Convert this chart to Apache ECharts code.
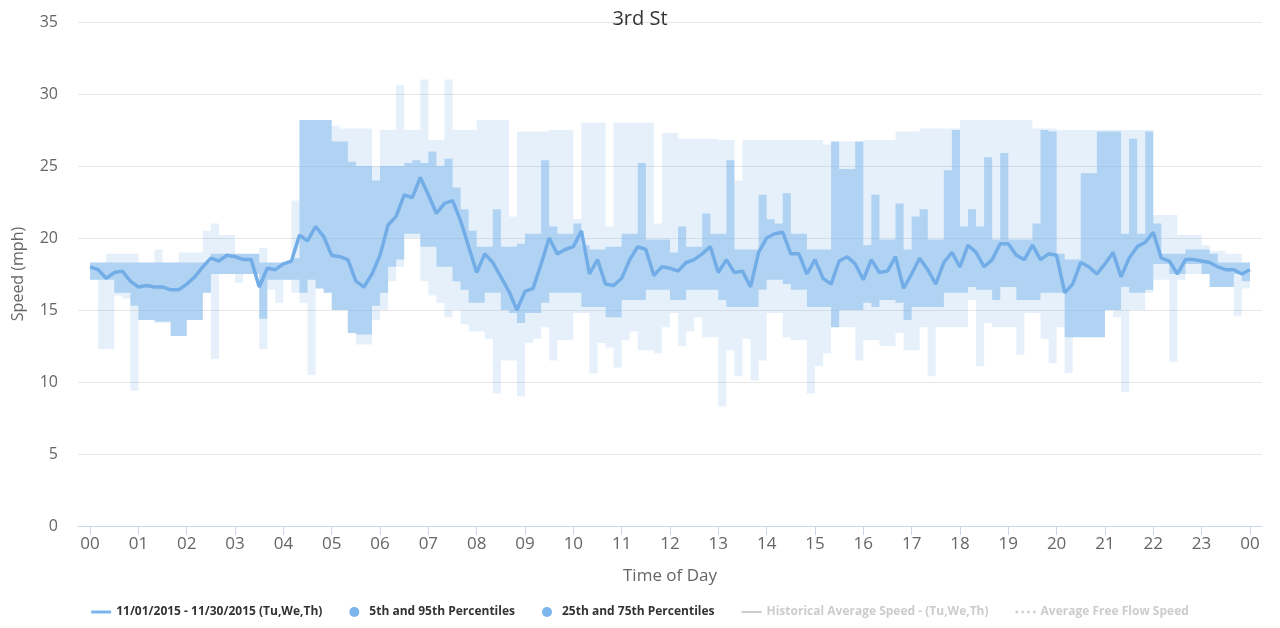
<!DOCTYPE html>
<html>
<head>
<meta charset="utf-8">
<title>3rd St</title>
<script src="https://cdn.jsdelivr.net/npm/echarts@6/dist/echarts.min.js"></script>
<style>
  html, body { margin: 0; padding: 0; background: #fff; }
  #chart { width: 1280px; height: 628px; }
</style>
</head>
<body>
<div id="chart"></div>
<script>
// time of day in hours, one point every 10 minutes (00:00 .. 24:00)
const hours = []
for (let i = 0; i <= 144; i++) hours.push(i / 6)

const hourTicks = [0, 1, 2, 3, 4, 5, 6, 7, 8, 9, 10, 11, 12, 13, 14, 15, 16, 17, 18, 19, 20, 21, 22, 23, 24]
const hourLabels = ['00', '01', '02', '03', '04', '05', '06', '07', '08', '09', '10', '11', '12',
  '13', '14', '15', '16', '17', '18', '19', '20', '21', '22', '23', '00']

// median speed, 11/01/2015 - 11/30/2015 (Tu,We,Th)
const speed = [
  18.0, 17.8, 17.2, 17.6, 17.7, 17.0,
  16.6, 16.7, 16.6, 16.6, 16.4, 16.4,
  16.8, 17.3, 18.0, 18.6, 18.4, 18.8,
  18.7, 18.5, 18.5, 16.6, 17.9, 17.8,
  18.2, 18.4, 20.2, 19.8, 20.8, 20.1,
  18.8, 18.7, 18.5, 17.0, 16.6, 17.5,
  18.8, 20.9, 21.5, 23.0, 22.8, 24.2,
  23.0, 21.7, 22.4, 22.6, 21.2, 19.4,
  17.6, 18.9, 18.3, 17.3, 16.3, 15.0,
  16.3, 16.5, 18.2, 20.0, 18.9, 19.2,
  19.4, 20.5, 17.5, 18.5, 16.8, 16.7,
  17.2, 18.5, 19.4, 19.2, 17.4, 18.0,
  17.9, 17.7, 18.3, 18.5, 18.9, 19.4,
  17.6, 18.5, 17.6, 17.7, 16.6, 19.0,
  20.0, 20.3, 20.4, 18.9, 18.9, 17.5,
  18.5, 17.2, 16.8, 18.4, 18.7, 18.2,
  17.1, 18.5, 17.6, 17.7, 18.7, 16.5,
  17.5, 18.6, 17.8, 16.8, 18.3, 19.0,
  18.0, 19.5, 19.0, 18.0, 18.5, 19.6,
  19.6, 18.8, 18.5, 19.5, 18.5, 18.9,
  18.8, 16.2, 16.8, 18.3, 18.0, 17.5,
  18.2, 19.0, 17.3, 18.6, 19.4, 19.7,
  20.4, 18.6, 18.4, 17.5, 18.5, 18.5,
  18.4, 18.3, 18.0, 17.8, 17.8, 17.5,
  17.8
]

const p75 = [
  18.3, 18.3, 18.3, 18.3, 18.3, 18.3,
  18.3, 18.3, 18.3, 18.3, 18.3, 18.3,
  18.3, 18.3, 18.3, 18.9, 18.9, 18.9,
  18.9, 18.9, 18.9, 18.3, 18.3, 18.3,
  18.3, 18.6, 28.2, 28.2, 28.2, 28.2,
  26.7, 26.7, 25.3, 25.0, 25.0, 24.0,
  25.0, 25.0, 25.0, 25.2, 25.4, 25.2,
  26.0, 25.0, 25.5, 23.5, 22.0, 20.5,
  19.4, 19.4, 22.0, 19.4, 19.4, 19.6,
  20.3, 20.3, 25.4, 20.8, 20.3, 20.3,
  21.0, 19.5, 19.2, 19.2, 19.4, 19.4,
  20.3, 20.3, 25.2, 19.9, 19.9, 19.9,
  19.0, 20.8, 19.4, 19.4, 21.7, 20.3,
  20.3, 25.4, 19.2, 19.2, 19.2, 23.0,
  21.3, 21.0, 23.1, 20.3, 20.3, 19.2,
  19.2, 19.2, 26.7, 24.8, 24.8, 26.7,
  19.5, 23.0, 19.9, 19.9, 22.4, 19.2,
  21.5, 22.0, 19.9, 19.9, 24.7, 27.5,
  20.8, 22.0, 20.8, 25.6, 19.9, 25.9,
  19.9, 19.9, 19.9, 21.0, 27.5, 27.4,
  18.9, 18.5, 18.5, 24.5, 24.5, 27.4,
  27.4, 27.4, 20.3, 26.9, 20.3, 27.4,
  21.0, 18.9, 18.9, 18.9, 19.2, 19.2,
  19.2, 18.9, 18.3, 18.3, 18.3, 18.3,
  18.3
]

const p25 = [
  17.1, 17.1, 17.1, 16.2, 16.2, 15.3,
  14.3, 14.3, 14.2, 14.2, 13.2, 13.2,
  14.3, 14.3, 16.2, 17.5, 17.5, 17.5,
  17.5, 17.5, 17.5, 14.4, 17.1, 17.1,
  17.1, 17.1, 16.2, 17.1, 16.5, 16.2,
  15.0, 15.0, 13.4, 13.3, 13.3, 15.3,
  16.2, 18.0, 18.5, 20.3, 20.3, 19.4,
  19.4, 18.0, 18.0, 17.0, 16.4, 15.5,
  15.5, 16.2, 16.2, 15.0, 14.8, 14.1,
  14.8, 14.8, 15.5, 16.2, 16.2, 16.2,
  16.2, 15.2, 15.2, 15.2, 14.5, 14.5,
  15.7, 15.7, 15.7, 16.4, 16.4, 16.4,
  15.7, 15.7, 16.4, 16.4, 16.4, 16.4,
  15.7, 15.2, 15.2, 15.2, 15.2, 16.4,
  17.1, 17.1, 16.8, 16.4, 16.4, 15.2,
  15.2, 15.2, 13.8, 15.0, 15.0, 15.0,
  15.5, 15.2, 15.7, 15.7, 15.5, 14.3,
  15.2, 15.2, 15.2, 15.2, 16.2, 16.2,
  16.2, 16.6, 16.4, 16.4, 15.7, 16.6,
  16.6, 15.7, 15.7, 15.7, 16.2, 16.2,
  16.2, 13.1, 13.1, 13.1, 13.1, 13.1,
  15.0, 15.0, 16.6, 16.2, 16.2, 16.4,
  18.2, 18.2, 17.5, 17.5, 18.2, 18.2,
  17.5, 16.6, 16.6, 16.6, 17.5, 17.0,
  17.0
]

const p95 = [
  18.3, 18.3, 18.9, 18.9, 18.9, 18.9,
  18.3, 18.3, 19.2, 18.3, 18.3, 19.0,
  19.0, 19.0, 20.5, 21.0, 20.2, 20.2,
  18.9, 18.9, 18.9, 19.3, 18.3, 18.3,
  18.3, 22.6, 28.2, 28.2, 28.2, 28.2,
  27.8, 27.6, 27.6, 27.6, 27.6, 25.0,
  27.5, 27.5, 30.6, 27.5, 27.5, 31.0,
  26.8, 26.8, 31.0, 27.5, 27.5, 27.5,
  28.2, 28.2, 28.2, 28.2, 21.5, 27.4,
  27.4, 27.4, 27.4, 27.5, 27.5, 27.5,
  21.3, 28.0, 28.0, 28.0, 20.8, 28.0,
  28.0, 28.0, 28.0, 28.0, 21.0, 27.3,
  27.3, 26.9, 26.9, 26.9, 26.9, 26.9,
  26.8, 26.8, 24.0, 26.8, 26.8, 26.8,
  26.8, 26.8, 26.8, 26.8, 26.8, 26.8,
  26.8, 26.5, 26.7, 26.7, 26.7, 26.7,
  26.8, 26.8, 26.8, 26.8, 27.4, 27.4,
  27.4, 27.6, 27.6, 27.6, 27.6, 27.6,
  28.2, 28.2, 28.2, 28.2, 28.2, 28.2,
  28.2, 28.2, 28.2, 27.6, 27.6, 27.6,
  27.5, 27.5, 27.5, 27.5, 27.5, 27.5,
  27.5, 27.5, 27.5, 27.5, 27.5, 27.5,
  21.6, 21.6, 21.6, 20.2, 20.2, 20.2,
  19.5, 19.1, 19.1, 18.9, 18.9, 18.3,
  18.3
]

const p5 = [
  17.1, 12.3, 12.3, 16.0, 15.8, 9.4,
  14.3, 14.3, 14.1, 14.1, 13.2, 13.2,
  14.3, 14.3, 16.2, 11.6, 17.5, 17.5,
  16.9, 17.5, 17.5, 12.3, 16.4, 15.5,
  17.1, 16.2, 15.5, 10.5, 16.5, 16.2,
  15.0, 15.0, 13.4, 12.6, 12.6, 14.3,
  15.0, 17.0, 18.0, 20.0, 20.0, 17.0,
  16.0, 15.5, 14.5, 15.0, 14.0, 13.5,
  13.5, 13.0, 9.2, 11.5, 11.5, 9.0,
  12.7, 13.0, 13.8, 11.5, 12.9, 12.9,
  14.8, 14.8, 10.6, 12.7, 12.4, 11.0,
  12.9, 13.5, 12.2, 12.2, 12.0, 13.8,
  14.8, 12.5, 13.5, 14.5, 13.1, 13.1,
  8.3, 12.2, 10.4, 13.0, 10.1, 11.5,
  14.8, 14.8, 13.1, 12.9, 12.9, 9.2,
  11.1, 12.0, 13.8, 13.8, 13.8, 11.5,
  12.9, 12.9, 12.5, 12.5, 13.4, 12.2,
  12.2, 13.8, 10.4, 13.8, 13.8, 13.8,
  13.8, 15.7, 11.1, 14.1, 13.8, 13.8,
  13.8, 11.9, 14.8, 14.8, 13.0, 11.3,
  13.8, 10.6, 13.1, 13.1, 13.1, 13.1,
  15.0, 14.5, 9.3, 15.0, 15.0, 16.2,
  17.1, 17.1, 11.4, 17.1, 17.5, 17.5,
  17.5, 16.6, 16.6, 16.6, 14.6, 16.5,
  17.0
]

const seriesName = '11/01/2015 - 11/30/2015 (Tu,We,Th)'
const outerName = '5th and 95th Percentiles'
const innerName = '25th and 75th Percentiles'
const histName = 'Historical Average Speed - (Tu,We,Th)'
const freeName = 'Average Free Flow Speed'

// stepped band between two percentile arrays, placed with the axis scales
function bandRenderer(lo, hi, fill) {
  return function (params, api) {
    const top = []
    const bottom = []
    for (let i = 0; i < hours.length; i++) {
      const h0 = hours[i]
      const h1 = i < hours.length - 1 ? hours[i + 1] : hours[i]
      top.push(api.coord([h0, hi[i]]), api.coord([h1, hi[i]]))
      bottom.push(api.coord([h0, lo[i]]), api.coord([h1, lo[i]]))
    }
    return {
      type: 'polygon',
      shape: { points: top.concat(bottom.reverse()) },
      style: { fill: fill, stroke: null }
    }
  }
}

const myChart = echarts.init(document.getElementById('chart'))
const font = 'Open Sans'

let option = {
  animation: false,
  textStyle: { fontFamily: font },
  title: {
    text: '3rd St',
    left: 'center',
    top: 4,
    textStyle: { fontSize: 20, fontWeight: 'normal', color: '#333333', fontFamily: font }
  },
  grid: { left: 78, right: 18, top: 22, bottom: 102 },
  legend: {
    bottom: 5,
    left: 'center',
    itemGap: 27,
    itemWidth: 20,
    itemHeight: 10,
    itemTextGap: 7,
    inactiveColor: '#cccccc',
    textStyle: { fontSize: 12, fontWeight: 'bold', color: '#333333', fontFamily: font },
    data: [
      { name: seriesName, icon: 'path://M0,0 L20,0 L20,3 L0,3 Z' },
      { name: outerName, icon: 'circle' },
      { name: innerName, icon: 'circle' },
      { name: histName, icon: 'path://M0,0 L20,0 L20,2 L0,2 Z' },
      { name: freeName, icon: 'path://M0,0 L2,0 L2,2 L0,2 Z M5,0 L7,0 L7,2 L5,2 Z M10,0 L12,0 L12,2 L10,2 Z M15,0 L17,0 L17,2 L15,2 Z' }
    ],
    selected: { [histName]: false, [freeName]: false }
  },
  xAxis: {
    type: 'value',
    min: -0.25,
    max: 24.25,
    name: 'Time of Day',
    nameLocation: 'middle',
    nameGap: 42,
    nameTextStyle: { fontSize: 17, color: '#666666' },
    axisLine: { show: true, lineStyle: { color: '#ccd6eb' } },
    axisTick: { show: true, length: 9, customValues: hourTicks, lineStyle: { color: '#ccd6eb' } },
    axisLabel: {
      customValues: hourTicks,
      fontSize: 17,
      color: '#666666',
      margin: 10,
      formatter: (v) => hourLabels[Math.round(v)]
    },
    splitLine: { show: false }
  },
  yAxis: {
    type: 'value',
    min: 0,
    max: 35,
    interval: 5,
    name: 'Speed (mph)',
    nameLocation: 'middle',
    nameGap: 52,
    nameTextStyle: { fontSize: 16, color: '#666666' },
    axisLine: { show: false },
    axisTick: { show: false },
    axisLabel: { fontSize: 16, color: '#666666', margin: 20 },
    splitLine: { lineStyle: { color: '#e6e6e6' } }
  },
  series: [
    {
      name: outerName, type: 'custom',
      data: [[0, 0]],
      itemStyle: { color: '#7cb5ec' },
      renderItem: bandRenderer(p5, p95, 'rgba(124,181,236,0.2)'),
      silent: true
    },
    {
      name: innerName, type: 'custom',
      data: [[0, 0]],
      itemStyle: { color: '#7cb5ec' },
      renderItem: bandRenderer(p25, p75, 'rgba(124,181,236,0.5)'),
      silent: true
    },
    {
      name: seriesName, type: 'line', symbol: 'none',
      data: speed.map((v, i) => [hours[i], v]),
      itemStyle: { color: '#7cb5ec' },
      lineStyle: { width: 3.5, color: '#72ade8' }
    },
    {
      name: histName, type: 'line', symbol: 'none', data: [],
      itemStyle: { color: '#c0c0c0' }, lineStyle: { width: 2, color: '#c0c0c0' }
    },
    {
      name: freeName, type: 'line', symbol: 'none', data: [],
      itemStyle: { color: '#c0c0c0' }, lineStyle: { width: 2, type: 'dotted', color: '#c0c0c0' }
    }
  ]
}

option && myChart.setOption(option)
</script>
</body>
</html>
